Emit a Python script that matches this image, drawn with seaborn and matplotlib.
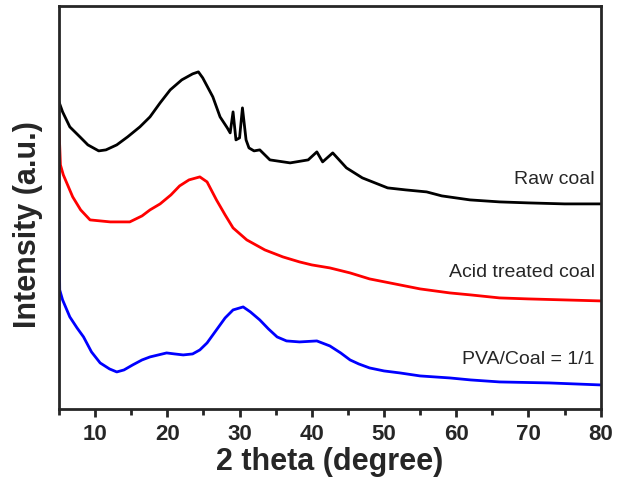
import matplotlib
matplotlib.use("Agg")
import matplotlib.pyplot as plt
import seaborn as sns
from matplotlib.ticker import MultipleLocator

# XRD patterns (intensity in arbitrary units)
raw_x = [5.0, 5.5, 6.5, 7.9, 9.0, 10.5, 11.5, 13.0, 14.5, 16.2, 17.6, 19.0, 20.4, 22.0,
         23.5, 24.3, 24.9, 26.3, 27.3, 28.3, 28.7, 29.1, 29.5, 30.0, 30.4, 30.9, 31.3,
         32.0, 32.8, 34.2, 37.0, 39.5, 40.7, 41.5, 42.9, 44.8, 47.0, 50.5, 53.0, 55.9,
         58.0, 61.9, 66.0, 70.0, 75.0, 80.0]
raw_y = [307, 297, 282, 272, 264, 258, 259, 264, 272, 282, 292, 306, 319, 329,
         335, 337, 331, 312, 292, 281, 276, 297, 269, 271, 301, 269, 261,
         258, 259, 249, 246, 249, 257, 247, 256, 241, 231, 221, 219, 217,
         213, 209, 207, 206, 205, 205]

acid_x = [5.0, 5.2, 5.6, 6.9, 8.0, 9.3, 12.1, 14.8, 16.5, 17.6, 19.0, 20.5, 21.7, 23.0,
          24.5, 25.5, 26.8, 28.0, 29.1, 31.0, 33.5, 36.0, 38.3, 40.0, 42.5, 45.3, 48.0,
          52.2, 55.0, 59.1, 62.0, 66.0, 70.0, 75.0, 80.0]
acid_y = [281, 244, 234, 212, 199, 189, 187, 187, 193, 199, 205, 214, 223, 229,
          232, 227, 209, 194, 181, 169, 159, 152, 147, 144, 141, 136, 130,
          124, 120, 116, 114, 111, 110, 109, 108]

pva_x = [5.0, 5.1, 5.5, 6.5, 7.5, 8.4, 9.5, 10.7, 12.0, 13.0, 14.0, 15.2, 16.5, 17.6,
         19.9, 21.0, 22.2, 23.5, 24.5, 25.5, 26.8, 28.0, 29.1, 30.5, 31.5, 32.8, 34.0,
         35.2, 36.5, 38.3, 40.7, 42.5, 44.0, 45.3, 46.5, 48.0, 50.0, 52.2, 55.0, 59.1,
         62.0, 66.0, 72.9, 80.0]
pva_y = [187, 119, 109, 92, 81, 72, 57, 46, 40, 37, 39, 44, 49, 52,
         56, 55, 54, 55, 59, 66, 79, 91, 99, 102, 97, 89, 80,
         72, 68, 67, 68, 63, 56, 49, 45, 41, 38, 36, 33, 31,
         29, 27, 26, 24]

labels = ["Raw coal", "Acid treated coal", "PVA/Coal = 1/1"]
label_y = [229, 136, 49]
colors = ["black", "red", "blue"]

sns.set_style("ticks")
plt.rcParams["font.family"] = ["Liberation Sans", "DejaVu Sans"]

fig = plt.figure(figsize=(6.17, 4.88), dpi=100)
ax = fig.add_axes([0.0956, 0.162, 0.878, 0.826])

for xs, ys, c in zip([raw_x, acid_x, pva_x], [raw_y, acid_y, pva_y], colors):
    sns.lineplot(x=xs, y=ys, color=c, lw=2, estimator=None, sort=False, ax=ax)

for lab, ly in zip(labels, label_y):
    ax.text(79.2, ly, lab, ha="right", va="center", fontsize=14)

ax.set_xlim(5, 80)
ax.set_ylim(0, 403)
ax.set_yticks([])
ax.xaxis.set_major_locator(MultipleLocator(10))
ax.xaxis.set_minor_locator(MultipleLocator(5))
ax.tick_params(axis="x", which="major", direction="out", length=6, width=2,
               labelsize=16, pad=5)
ax.tick_params(axis="x", which="minor", direction="out", length=4, width=2)
for lab in ax.get_xticklabels():
    lab.set_fontweight("bold")
for sp in ax.spines.values():
    sp.set_linewidth(2)
    sp.set_visible(True)

ax.set_xlabel("2 theta (degree)", fontsize=22, fontweight="bold", labelpad=1)
ax.set_ylabel("Intensity (a.u.)", fontsize=22, fontweight="bold")
ax.yaxis.set_label_coords(-0.03, 0.457)

fig.savefig("out.png", dpi=100)
